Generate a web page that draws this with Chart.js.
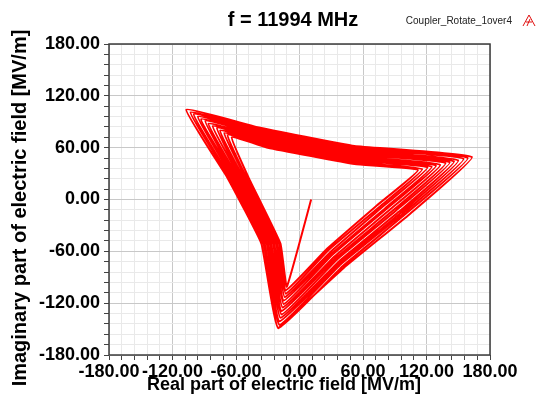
<!DOCTYPE html>
<html>
<head>
<meta charset="utf-8">
<script src="https://cdn.jsdelivr.net/npm/chart.js@4.4.1/dist/chart.umd.min.js"></script>
<style>
  html, body { margin: 0; padding: 0; background: #fff; }
  #wrap { width: 542px; height: 400px; }
</style>
</head>
<body>
<div id="wrap"><canvas id="field"></canvas></div>
<script>
// trace starts near the origin, then spirals outward round a three-cornered loop
const startPoint = [11, 0]
const bottomX = [-12, -13, -13, -14, -15, -15, -16, -17, -17, -18, -19, -19, -20]
const bottomY = [-101, -105, -109, -113, -117, -121, -125, -129, -133, -137, -141, -145, -149]
const leftLowX = [-18, -19, -21, -22, -24, -25, -27, -28, -30, -31, -33, -34, -36]
const leftLowY = [-51, -51, -51, -51, -51, -51, -51, -51, -51, -51, -51, -51, -51]
const leftHighX = [-48, -50, -51, -53, -55, -56, -58, -60, -61, -63, -65, -66, -68]
const leftHighY = [25, 25, 25, 25, 25, 25, 25, 25, 25, 25, 25, 25, 25]
const cornerLX = [-64, -68, -71, -75, -78, -82, -86, -89, -93, -96, -100, -103, -107]
const cornerLY = [72, 75, 77, 80, 83, 85, 88, 91, 93, 96, 99, 101, 104]
const topLeftX = [-30, -31, -32, -33, -34, -35, -36, -36, -37, -38, -39, -40, -41]
const topLeftY = [60, 62, 64, 66, 68, 70, 72, 74, 76, 78, 80, 82, 84]
const topRightX = [52, 52, 52, 52, 52, 52, 52, 52, 52, 52, 52, 52, 52]
const topRightY = [41, 43, 45, 46, 48, 50, 52, 53, 55, 57, 59, 60, 62]
const cornerRX = [112, 116, 121, 125, 129, 133, 138, 142, 146, 150, 155, 159, 163]
const cornerRY = [34, 35, 37, 38, 39, 40, 42, 43, 44, 45, 47, 48, 49]
const lowRightX = [73, 76, 78, 81, 83, 86, 89, 91, 94, 96, 99, 101, 104]
const lowRightY = [-7, -8, -9, -10, -10, -11, -12, -13, -14, -15, -15, -16, -17]
const lowMidX = [26, 27, 29, 30, 31, 33, 34, 35, 37, 38, 39, 41, 42]
const lowMidY = [-57, -59, -61, -63, -64, -66, -68, -70, -72, -74, -75, -77, -79]
const endPoint = [-20, -149]

const axisMin = -180
const axisMax = 180
const majorStep = 60
const minorStep = 12

const titleText = 'f = 11994 MHz'
const legendText = 'Coupler_Rotate_1over4'
const xTitle = 'Real part of electric field [MV/m]'
const yTitle = 'Imaginary part of electric field [MV/m]'

// build the trace point list
const points = [{ x: startPoint[0], y: startPoint[1] }]
for (let i = 0; i < bottomX.length; i++) {
  points.push({ x: bottomX[i], y: bottomY[i] })
  points.push({ x: leftLowX[i], y: leftLowY[i] })
  points.push({ x: leftHighX[i], y: leftHighY[i] })
  points.push({ x: cornerLX[i], y: cornerLY[i] })
  points.push({ x: topLeftX[i], y: topLeftY[i] })
  points.push({ x: topRightX[i], y: topRightY[i] })
  points.push({ x: cornerRX[i], y: cornerRY[i] })
  points.push({ x: lowRightX[i], y: lowRightY[i] })
  points.push({ x: lowMidX[i], y: lowMidY[i] })
}
points.push({ x: endPoint[0], y: endPoint[1] })

const FONT = 'Liberation Sans, Arial, sans-serif'

const isMajor = v => Math.abs(v % majorStep) < 1e-6

const gridColor = ctx => isMajor(ctx.tick.value) ? '#c8c8c8' : '#e9e9e9'

// titles, frame and the little logo
const decorations = {
  id: 'decorations',
  afterDraw(chart) {
    const { ctx, chartArea } = chart
    ctx.save()
    ctx.strokeStyle = '#3c3c3c'
    ctx.lineWidth = 1.5
    ctx.strokeRect(chartArea.left, chartArea.top, chartArea.right - chartArea.left, chartArea.bottom - chartArea.top)

    ctx.fillStyle = '#000'
    ctx.textAlign = 'center'
    ctx.textBaseline = 'middle'
    ctx.font = 'bold 20px ' + FONT
    ctx.fillText(titleText, 293, 20)

    ctx.font = 'bold 18px ' + FONT
    ctx.fillText(xTitle, 284, 385)

    ctx.font = 'bold 20px ' + FONT
    ctx.save()
    ctx.translate(20, 208)
    ctx.rotate(-Math.PI / 2)
    ctx.fillText(yTitle, 0, 0)
    ctx.restore()

    ctx.font = '10px ' + FONT
    ctx.textAlign = 'right'
    ctx.fillStyle = '#222'
    ctx.fillText(legendText, 512, 21)

    // logo
    ctx.strokeStyle = '#e01010'
    ctx.lineWidth = 1
    ctx.beginPath()
    ctx.moveTo(523, 26); ctx.lineTo(529, 15); ctx.lineTo(535, 26)
    ctx.moveTo(526, 22); ctx.lineTo(532, 22)
    ctx.moveTo(527, 26); ctx.lineTo(530, 19)
    ctx.stroke()
    ctx.restore()
  }
}

new Chart(document.getElementById('field'), {
  type: 'scatter',
  data: {
    datasets: [{
      data: points,
      showLine: true,
      borderColor: '#ff0000',
      borderWidth: 2,
      pointRadius: 0,
      tension: 0.1,
      fill: false
    }]
  },
  options: {
    responsive: true,
    maintainAspectRatio: false,
    animation: false,
    layout: { padding: { top: 44, right: 52, left: 0, bottom: 0 } },
    plugins: {
      legend: { display: false },
      tooltip: { enabled: false },
      title: { display: false }
    },
    scales: {
      x: {
        type: 'linear',
        min: axisMin,
        max: axisMax,
        afterFit: scale => { scale.height = 45 },
        border: { display: false },
        grid: { color: gridColor, tickLength: 5, tickColor: '#444', drawTicks: true },
        ticks: {
          stepSize: minorStep,
          autoSkip: false,
          maxRotation: 0,
          padding: 1,
          color: '#000',
          font: { family: FONT, size: 18, weight: 'bold' },
          callback: v => isMajor(v) ? v.toFixed(2) : ''
        }
      },
      y: {
        type: 'linear',
        min: axisMin,
        max: axisMax,
        afterFit: scale => { scale.width = 109 },
        border: { display: false },
        grid: { color: gridColor, tickLength: 5, tickColor: '#444', drawTicks: true },
        ticks: {
          stepSize: minorStep,
          autoSkip: false,
          padding: 4,
          color: '#000',
          font: { family: FONT, size: 18, weight: 'bold' },
          callback: v => isMajor(v) ? v.toFixed(2) : ''
        }
      }
    }
  },
  plugins: [decorations]
})
</script>
</body>
</html>
